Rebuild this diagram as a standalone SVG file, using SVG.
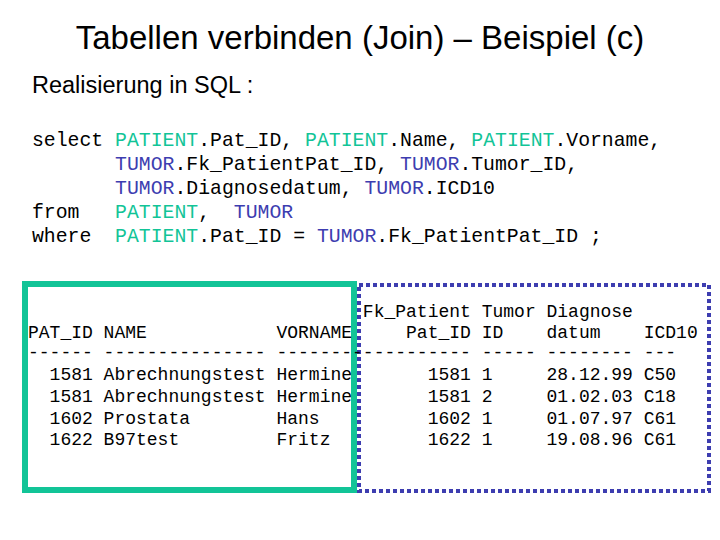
<svg xmlns="http://www.w3.org/2000/svg" width="720" height="540" viewBox="0 0 720 540">
<style>
.t{font-family:"Liberation Sans",Arial,sans-serif;fill:#000}
.m{font-family:"Liberation Mono","Courier New",monospace;fill:#000;white-space:pre}
.s{font-size:19.8px}
.d{font-size:18px}
.p{fill:#12c497}
.u{fill:#3d3db0}
</style>
<rect width="720" height="540" fill="#fff"/>
<text class="t" x="360" y="49" font-size="33" text-anchor="middle">Tabellen verbinden (Join) – Beispiel (c)</text>
<text class="t" x="32" y="93" font-size="23.5">Realisierung in SQL :</text>
<g id="sql">
<text class="m s" xml:space="preserve" x="32" y="146">select <tspan class="p">PATIENT</tspan>.Pat_ID, <tspan class="p">PATIENT</tspan>.Name, <tspan class="p">PATIENT</tspan>.Vorname,</text>
<text class="m s" xml:space="preserve" x="32" y="170">       <tspan class="u">TUMOR</tspan>.Fk_PatientPat_ID, <tspan class="u">TUMOR</tspan>.Tumor_ID,</text>
<text class="m s" xml:space="preserve" x="32" y="194">       <tspan class="u">TUMOR</tspan>.Diagnosedatum, <tspan class="u">TUMOR</tspan>.ICD10</text>
<text class="m s" xml:space="preserve" x="32" y="218">from   <tspan class="p">PATIENT</tspan>,  <tspan class="u">TUMOR</tspan></text>
<text class="m s" xml:space="preserve" x="32" y="242">where  <tspan class="p">PATIENT</tspan>.Pat_ID = <tspan class="u">TUMOR</tspan>.Fk_PatientPat_ID ;</text>
</g>
<g id="patient-box"><rect x="25" y="284" width="329" height="206" fill="none" stroke="#12c497" stroke-width="6"/></g>
<g id="tumor-box"><rect x="359" y="285" width="350" height="206" fill="none" stroke="#3d3db0" stroke-width="4" stroke-dasharray="4 3"/></g>
<g id="table">
<text class="m d" xml:space="preserve" x="28" y="317">                               Fk_Patient Tumor Diagnose</text>
<text class="m d" xml:space="preserve" x="28" y="338">PAT_ID NAME            VORNAME     Pat_ID ID    datum    ICD10</text>
<text class="m d" xml:space="preserve" x="28" y="358">------ --------------- ------------------ ----- -------- ---</text>
<text class="m d" xml:space="preserve" x="28" y="380">  1581 Abrechnungstest Hermine       1581 1     28.12.99 C50</text>
<text class="m d" xml:space="preserve" x="28" y="402">  1581 Abrechnungstest Hermine       1581 2     01.02.03 C18</text>
<text class="m d" xml:space="preserve" x="28" y="424">  1602 Prostata        Hans          1602 1     01.07.97 C61</text>
<text class="m d" xml:space="preserve" x="28" y="445">  1622 B97test         Fritz         1622 1     19.08.96 C61</text>
</g>
</svg>
